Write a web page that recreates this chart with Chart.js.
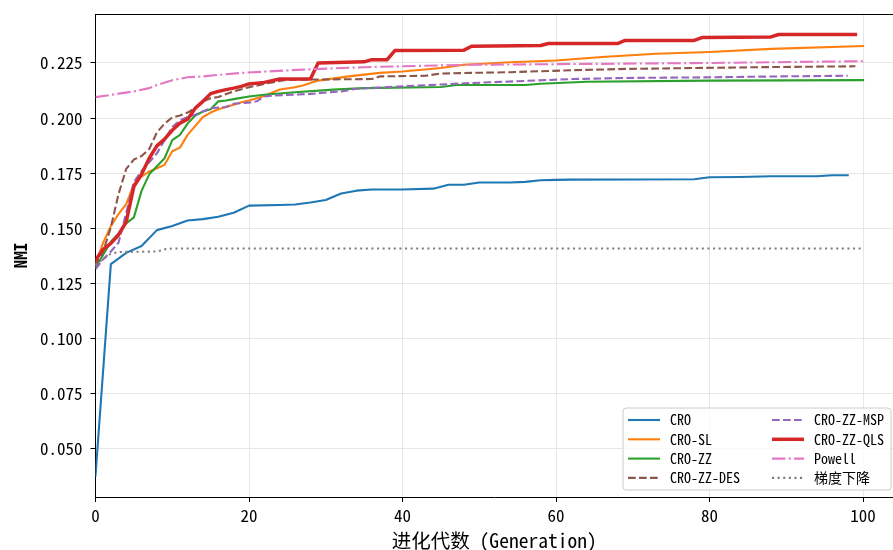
<!DOCTYPE html>
<html><head><meta charset="utf-8">
<script src="https://cdn.jsdelivr.net/npm/chart.js@4.4.0/dist/chart.umd.min.js"></script>
<style>html,body{margin:0;padding:0;background:#fff;} canvas{display:block;}</style>
</head><body>
<canvas id="c" width="893" height="550"></canvas>
<script>
const FONT = "'Noto Sans Mono CJK SC', 'Noto Sans CJK SC', 'DejaVu Sans Mono', monospace";

const xTicks = [0, 20, 40, 60, 80, 100];
const yTicks = [0.050, 0.075, 0.100, 0.125, 0.150, 0.175, 0.200, 0.225];
const seriesNames = ['CRO', 'CRO-SL', 'CRO-ZZ', 'CRO-ZZ-DES', 'CRO-ZZ-MSP', 'CRO-ZZ-QLS', 'Powell', '梯度下降'];

const croGen = [0,2,4,6,8,10,12,14,16,18,20,24,26,28,30,32,34,36,40,44,46,48,50,54,56,58,60,62,78,80,84,88,94,96,98];
const croNMI = [0.0379,0.1338,0.1389,0.1420,0.1492,0.1511,0.1536,0.1542,0.1553,0.1571,0.1603,0.1606,0.1608,0.1617,0.1629,0.1658,0.1671,0.1676,0.1676,0.1680,0.1698,0.1698,0.1708,0.1708,0.1711,0.1718,0.1720,0.1721,0.1723,0.1732,0.1733,0.1736,0.1736,0.1741,0.1741];

const slGen = [0,1,2,3,4,5,6,7,8,9,10,11,12,13,14,15,16,17,18,19,20,22,24,26,27,29,33,37,40,45,48,54,60,66,73,80,88,100];
const slNMI = [0.1335,0.1435,0.1510,0.1565,0.1610,0.1700,0.1735,0.1758,0.1773,0.1788,0.1850,0.1866,0.1924,0.1965,0.2005,0.2025,0.2040,0.2050,0.2061,0.2072,0.2080,0.2100,0.2130,0.2140,0.2148,0.2170,0.2189,0.2205,0.2211,0.2227,0.2242,0.2253,0.2261,0.2277,0.2292,0.2300,0.2314,0.2327];

const zzGen = [0,1,2,3,4,5,6,7,8,9,10,11,12,13,14,15,16,17,18,20,22,26,31,35,45,47,56,58,64,80,100];
const zzNMI = [0.1326,0.1380,0.1439,0.1477,0.1523,0.1550,0.1670,0.1745,0.1782,0.1818,0.1900,0.1924,0.1975,0.2012,0.2030,0.2040,0.2076,0.2080,0.2086,0.2098,0.2106,0.2117,0.2129,0.2136,0.2141,0.2150,0.2150,0.2156,0.2165,0.2170,0.2172];

const desGen = [0,1,2,3,4,5,6,7,8,9,10,11,12,13,14,15,16,18,20,22,23,25,29,36,37,43,45,49,54,62,69,78,87,99];
const desNMI = [0.1330,0.1395,0.1505,0.1655,0.1770,0.1812,0.1828,0.1860,0.1935,0.1975,0.2003,0.2012,0.2025,0.2045,0.2075,0.2090,0.2096,0.2121,0.2140,0.2155,0.2162,0.2174,0.2175,0.2177,0.2189,0.2192,0.2202,0.2205,0.2208,0.2217,0.2223,0.2227,0.2231,0.2235];

const mspGen = [0,1,2,3,4,5,6,7,8,9,10,11,12,13,15,17,18,20,21,22,23,28,32,34,40,49,62,69,80,89,98];
const mspNMI = [0.1315,0.1360,0.1395,0.1435,0.1570,0.1710,0.1760,0.1800,0.1840,0.1900,0.1960,0.1990,0.2005,0.2015,0.2045,0.2050,0.2065,0.2070,0.2076,0.2098,0.2102,0.2110,0.2121,0.2133,0.2144,0.2159,0.2177,0.2182,0.2185,0.2189,0.2192];

const qlsGen = [0,1,2,3,4,5,6,7,8,9,10,11,12,13,14,15,16,17,18,19,20,22,24,28,29,35,36,38,39,48,49,58,59,68,69,78,79,88,89,99];
const qlsNMI = [0.1356,0.1405,0.1432,0.1470,0.1530,0.1690,0.1745,0.1818,0.1874,0.1905,0.1945,0.1977,0.1995,0.2045,0.2076,0.2111,0.2121,0.2129,0.2136,0.2144,0.2155,0.2162,0.2177,0.2177,0.2250,0.2255,0.2265,0.2265,0.2306,0.2308,0.2326,0.2329,0.2338,0.2338,0.2352,0.2352,0.2365,0.2368,0.2379,0.2379];

const powellGen = [0,5,7,8,10,12,14,16,19,27,36,49,62,80,100];
const powellNMI = [0.2095,0.2121,0.2136,0.2150,0.2172,0.2185,0.2189,0.2196,0.2205,0.2220,0.2232,0.2242,0.2245,0.2250,0.2258];

const gdGen = [0,2,3,8,9,10,100];
const gdNMI = [0.1335,0.1385,0.1393,0.1395,0.1405,0.1409,0.1409];

const gens = [croGen, slGen, zzGen, desGen, mspGen, qlsGen, powellGen, gdGen];
const vals = [croNMI, slNMI, zzNMI, desNMI, mspNMI, qlsNMI, powellNMI, gdNMI];
const colors = ['#1f77b4','#ff7f0e','#2ca02c','#8c564b','#9467bd','#d62728','#e377c2','#7f7f7f'];
const widths = [2.1, 2.1, 2.1, 2.1, 2.1, 3.5, 2.1, 2.1];
const dashes = [[], [], [], [7.7,3.3], [7.7,3.3], [], [13.4,3.3,2.1,3.3], [2.1,3.5]];

const datasets = seriesNames.map((name, i) => ({
  label: name,
  data: gens[i].map((g, k) => ({x: g, y: vals[i][k]})),
  borderColor: colors[i],
  backgroundColor: colors[i],
  borderWidth: widths[i],
  borderDash: dashes[i],
  borderCapStyle: dashes[i].length ? 'butt' : 'square',
  borderJoinStyle: 'round',
  pointRadius: 0,
  pointHoverRadius: 0,
  tension: 0,
  fill: false,
  order: seriesNames.length - 1 - i
}));

const framePlugin = {
  id: 'frame',
  afterDatasetsDraw(chart) {
    const {ctx, chartArea: a} = chart;
    ctx.save();
    ctx.strokeStyle = '#000';
    ctx.lineWidth = 1;
    ctx.beginPath();
    ctx.moveTo(a.left, a.top + 0.5);
    ctx.lineTo(a.right, a.top + 0.5);
    ctx.stroke();
    ctx.restore();
  },
  afterDraw(chart) {
    const {ctx, chartArea: a} = chart;
    const ds = chart.data.datasets;
    const boxW = 268, boxH = 82;
    const bx = a.right - 2 - boxW, by = a.bottom - 7 - boxH;
    ctx.save();
    const r = 3;
    ctx.beginPath();
    ctx.moveTo(bx + r, by);
    ctx.lineTo(bx + boxW - r, by);
    ctx.quadraticCurveTo(bx + boxW, by, bx + boxW, by + r);
    ctx.lineTo(bx + boxW, by + boxH - r);
    ctx.quadraticCurveTo(bx + boxW, by + boxH, bx + boxW - r, by + boxH);
    ctx.lineTo(bx + r, by + boxH);
    ctx.quadraticCurveTo(bx, by + boxH, bx, by + boxH - r);
    ctx.lineTo(bx, by + r);
    ctx.quadraticCurveTo(bx, by, bx + r, by);
    ctx.closePath();
    ctx.fillStyle = 'rgba(255,255,255,0.8)';
    ctx.fill();
    ctx.strokeStyle = '#cccccc';
    ctx.lineWidth = 1;
    ctx.stroke();
    ctx.font = "14px " + FONT;
    ctx.textBaseline = 'middle';
    ctx.fillStyle = '#000';
    ds.forEach((d, i) => {
      const col = Math.floor(i / 4), row = i % 4;
      const y = by + 12 + row * 19.3;
      const hx = bx + 5 + col * 144;
      ctx.save();
      ctx.strokeStyle = d.borderColor;
      ctx.lineWidth = d.borderWidth;
      ctx.setLineDash(d.borderDash || []);
      ctx.lineCap = 'butt';
      ctx.beginPath();
      ctx.moveTo(hx, y);
      ctx.lineTo(hx + 32, y);
      ctx.stroke();
      ctx.restore();
      ctx.fillText(d.label, hx + 42, y);
    });
    ctx.restore();
  }
};

new Chart(document.getElementById('c'), {
  type: 'line',
  data: {datasets},
  options: {
    responsive: false,
    animation: false,
    devicePixelRatio: 1,
    layout: {padding: {top: 14, right: 0, left: 0, bottom: 0}},
    plugins: {legend: {display: false}, tooltip: {enabled: false}},
    scales: {
      x: {
        type: 'linear',
        min: 0,
        max: 103.9,
        afterBuildTicks: s => { s.ticks = xTicks.map(v => ({value: v})); },
        afterFit: s => { s.height = 53; s.paddingLeft = 0; s.paddingRight = 0; },
        ticks: {color: '#000', font: {family: FONT, size: 17}, padding: 3, maxRotation: 0, autoSkip: false,
                callback: v => String(v)},
        grid: {color: '#e6e6e6', lineWidth: 1, tickColor: '#000', tickLength: 5, tickWidth: 1},
        border: {display: true, color: '#000', width: 1},
        title: {display: true, text: '进化代数 (Generation)', color: '#000',
                font: {family: FONT, size: 19.5, lineHeight: 1.0}, padding: {top: 0, bottom: 0}}
      },
      y: {
        type: 'linear',
        min: 0.0282,
        max: 0.2472,
        afterBuildTicks: s => { s.ticks = yTicks.map(v => ({value: v})); },
        afterFit: s => { s.width = 95.5; s.paddingTop = 0; s.paddingBottom = 0; },
        ticks: {color: '#000', font: {family: FONT, size: 17}, padding: 8, autoSkip: false,
                callback: v => Number(v).toFixed(3)},
        grid: {color: '#e6e6e6', lineWidth: 1, tickColor: '#000', tickLength: 5, tickWidth: 1},
        border: {display: true, color: '#000', width: 1},
        title: {display: true, text: 'NMI', color: '#000',
                font: {family: FONT, size: 17, weight: 'bold', lineHeight: 1.2}, padding: {top: 10, bottom: 0}}
      }
    }
  },
  plugins: [framePlugin]
});
</script>
</body></html>
